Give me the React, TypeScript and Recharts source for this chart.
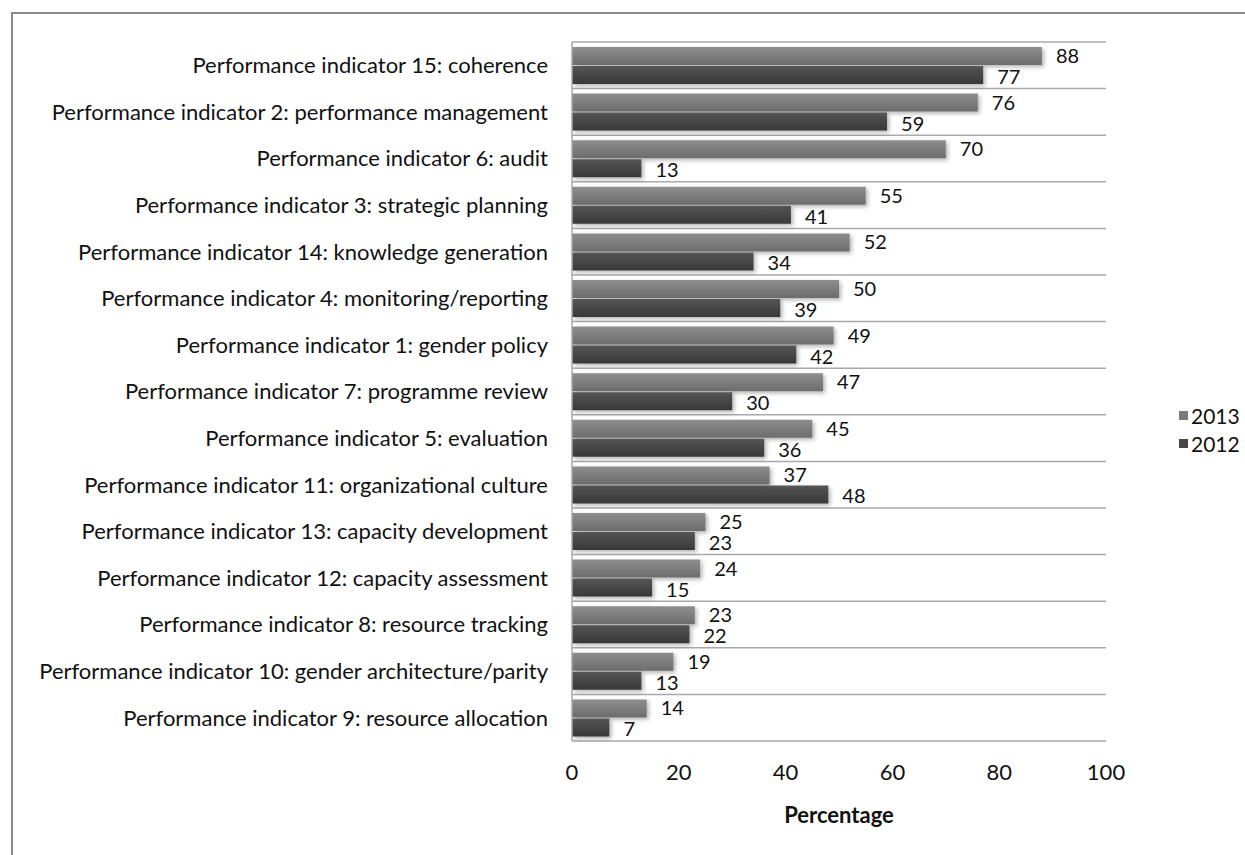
import { BarChart, Bar, XAxis, YAxis, CartesianGrid, LabelList } from 'recharts'

const indicators = [
  'Performance indicator 15: coherence',
  'Performance indicator 2: performance management',
  'Performance indicator 6: audit',
  'Performance indicator 3: strategic planning',
  'Performance indicator 14: knowledge generation',
  'Performance indicator 4: monitoring/reporting',
  'Performance indicator 1: gender policy',
  'Performance indicator 7: programme review',
  'Performance indicator 5: evaluation',
  'Performance indicator 11: organizational culture',
  'Performance indicator 13: capacity development',
  'Performance indicator 12: capacity assessment',
  'Performance indicator 8: resource tracking',
  'Performance indicator 10: gender architecture/parity',
  'Performance indicator 9: resource allocation',
]
const values2013 = [88, 76, 70, 55, 52, 50, 49, 47, 45, 37, 25, 24, 23, 19, 14]
const values2012 = [77, 59, 13, 41, 34, 39, 42, 30, 36, 48, 23, 15, 22, 13, 7]
const xTicks = [0, 20, 40, 60, 80, 100]

const data = indicators.map((name, i) => ({ name, y2013: values2013[i], y2012: values2012[i] }))

const FONT = 'Lato, "Open Sans", sans-serif'
const FS = 22
const M = { top: 42, right: 139, bottom: 24, left: 0 }
const W = 1245
const H = 855

// grid lines sit on the band edges, not the band centres
const bandEdges = (props: any) => {
  const off = props?.offset ?? { top: M.top, height: H - M.top - M.bottom - 90 }
  const n = indicators.length
  const out: number[] = []
  for (let i = 0; i <= n; i++) out.push(off.top + (off.height * i) / n)
  return out
}

// value label right of the bar, nudged a little apart between the two series
const valueLabel = (shift: number) => (p: any) => {
  const { x, y, width, height, value } = p
  return (
    <text
      x={Number(x) + Number(width) + 14}
      y={Number(y) + Number(height) / 2 + shift}
      dominantBaseline="central"
      fontSize={20}
      fontFamily={FONT}
      fill="#111"
    >
      {value}
    </text>
  )
}

function Legend() {
  const items = [
    { label: '2013', color: '#7a7a7a' },
    { label: '2012', color: '#474747' },
  ]
  return (
    <div style={{ position: 'absolute', left: 1179, top: 401, fontFamily: FONT, fontSize: 21, color: '#111' }}>
      {items.map((it) => (
        <div key={it.label} style={{ display: 'flex', alignItems: 'center', height: 28 }}>
          <span style={{ width: 9, height: 9, background: it.color, marginRight: 3, display: 'inline-block' }} />
          {it.label}
        </div>
      ))}
    </div>
  )
}

export default function App() {
  const text = { fontSize: FS, fill: '#111', fontFamily: FONT }
  return (
    <div style={{ position: 'absolute', left: 0, top: 0, width: W, height: H, background: '#fff', overflow: 'hidden' }}>
      <div
        style={{
          position: 'absolute',
          left: 11,
          top: 12,
          width: W,
          height: H,
          borderTop: '2px solid #8a8a8a',
          borderLeft: '2px solid #8a8a8a',
        }}
      />
      <div style={{ position: 'absolute', left: 0, top: 0 }}>
        <BarChart width={W} height={H} data={data} layout="vertical" margin={M} barSize={18} barGap={1}>
          <defs>
            <linearGradient id="g2013" x1="0" y1="0" x2="0" y2="1">
              <stop offset="0%" stopColor="#8e8e8e" />
              <stop offset="100%" stopColor="#6c6c6c" />
            </linearGradient>
            <linearGradient id="g2012" x1="0" y1="0" x2="0" y2="1">
              <stop offset="0%" stopColor="#555555" />
              <stop offset="100%" stopColor="#383838" />
            </linearGradient>
            <filter id="shadow" x="-10%" y="-30%" width="130%" height="180%">
              <feDropShadow dx="2" dy="2" stdDeviation="2" floodColor="#000" floodOpacity="0.3" />
            </filter>
          </defs>
          <CartesianGrid
            vertical={false}
            stroke="#a9a9a9"
            strokeWidth={1.5}
            horizontalCoordinatesGenerator={bandEdges}
          />
          <XAxis
            type="number"
            domain={[0, 100]}
            ticks={xTicks}
            height={90}
            axisLine={false}
            tickLine={false}
            tickSize={0}
            tickMargin={23}
            tick={text}
            label={{
              value: 'Percentage',
              position: 'insideBottom',
              offset: 8,
              style: { ...text, fontWeight: 700 },
            }}
          />
          <YAxis
            type="category"
            dataKey="name"
            width={572}
            interval={0}
            tickLine={false}
            tickSize={0}
            tickMargin={24}
            axisLine={{ stroke: '#a9a9a9', strokeWidth: 1.5 }}
            tick={text}
          />
          <Bar dataKey="y2013" name="2013" fill="url(#g2013)" filter="url(#shadow)" isAnimationActive={false}>
            <LabelList dataKey="y2013" content={valueLabel(-1)} />
          </Bar>
          <Bar dataKey="y2012" name="2012" fill="url(#g2012)" filter="url(#shadow)" isAnimationActive={false}>
            <LabelList dataKey="y2012" content={valueLabel(1)} />
          </Bar>
        </BarChart>
      </div>
      <Legend />
    </div>
  )
}
